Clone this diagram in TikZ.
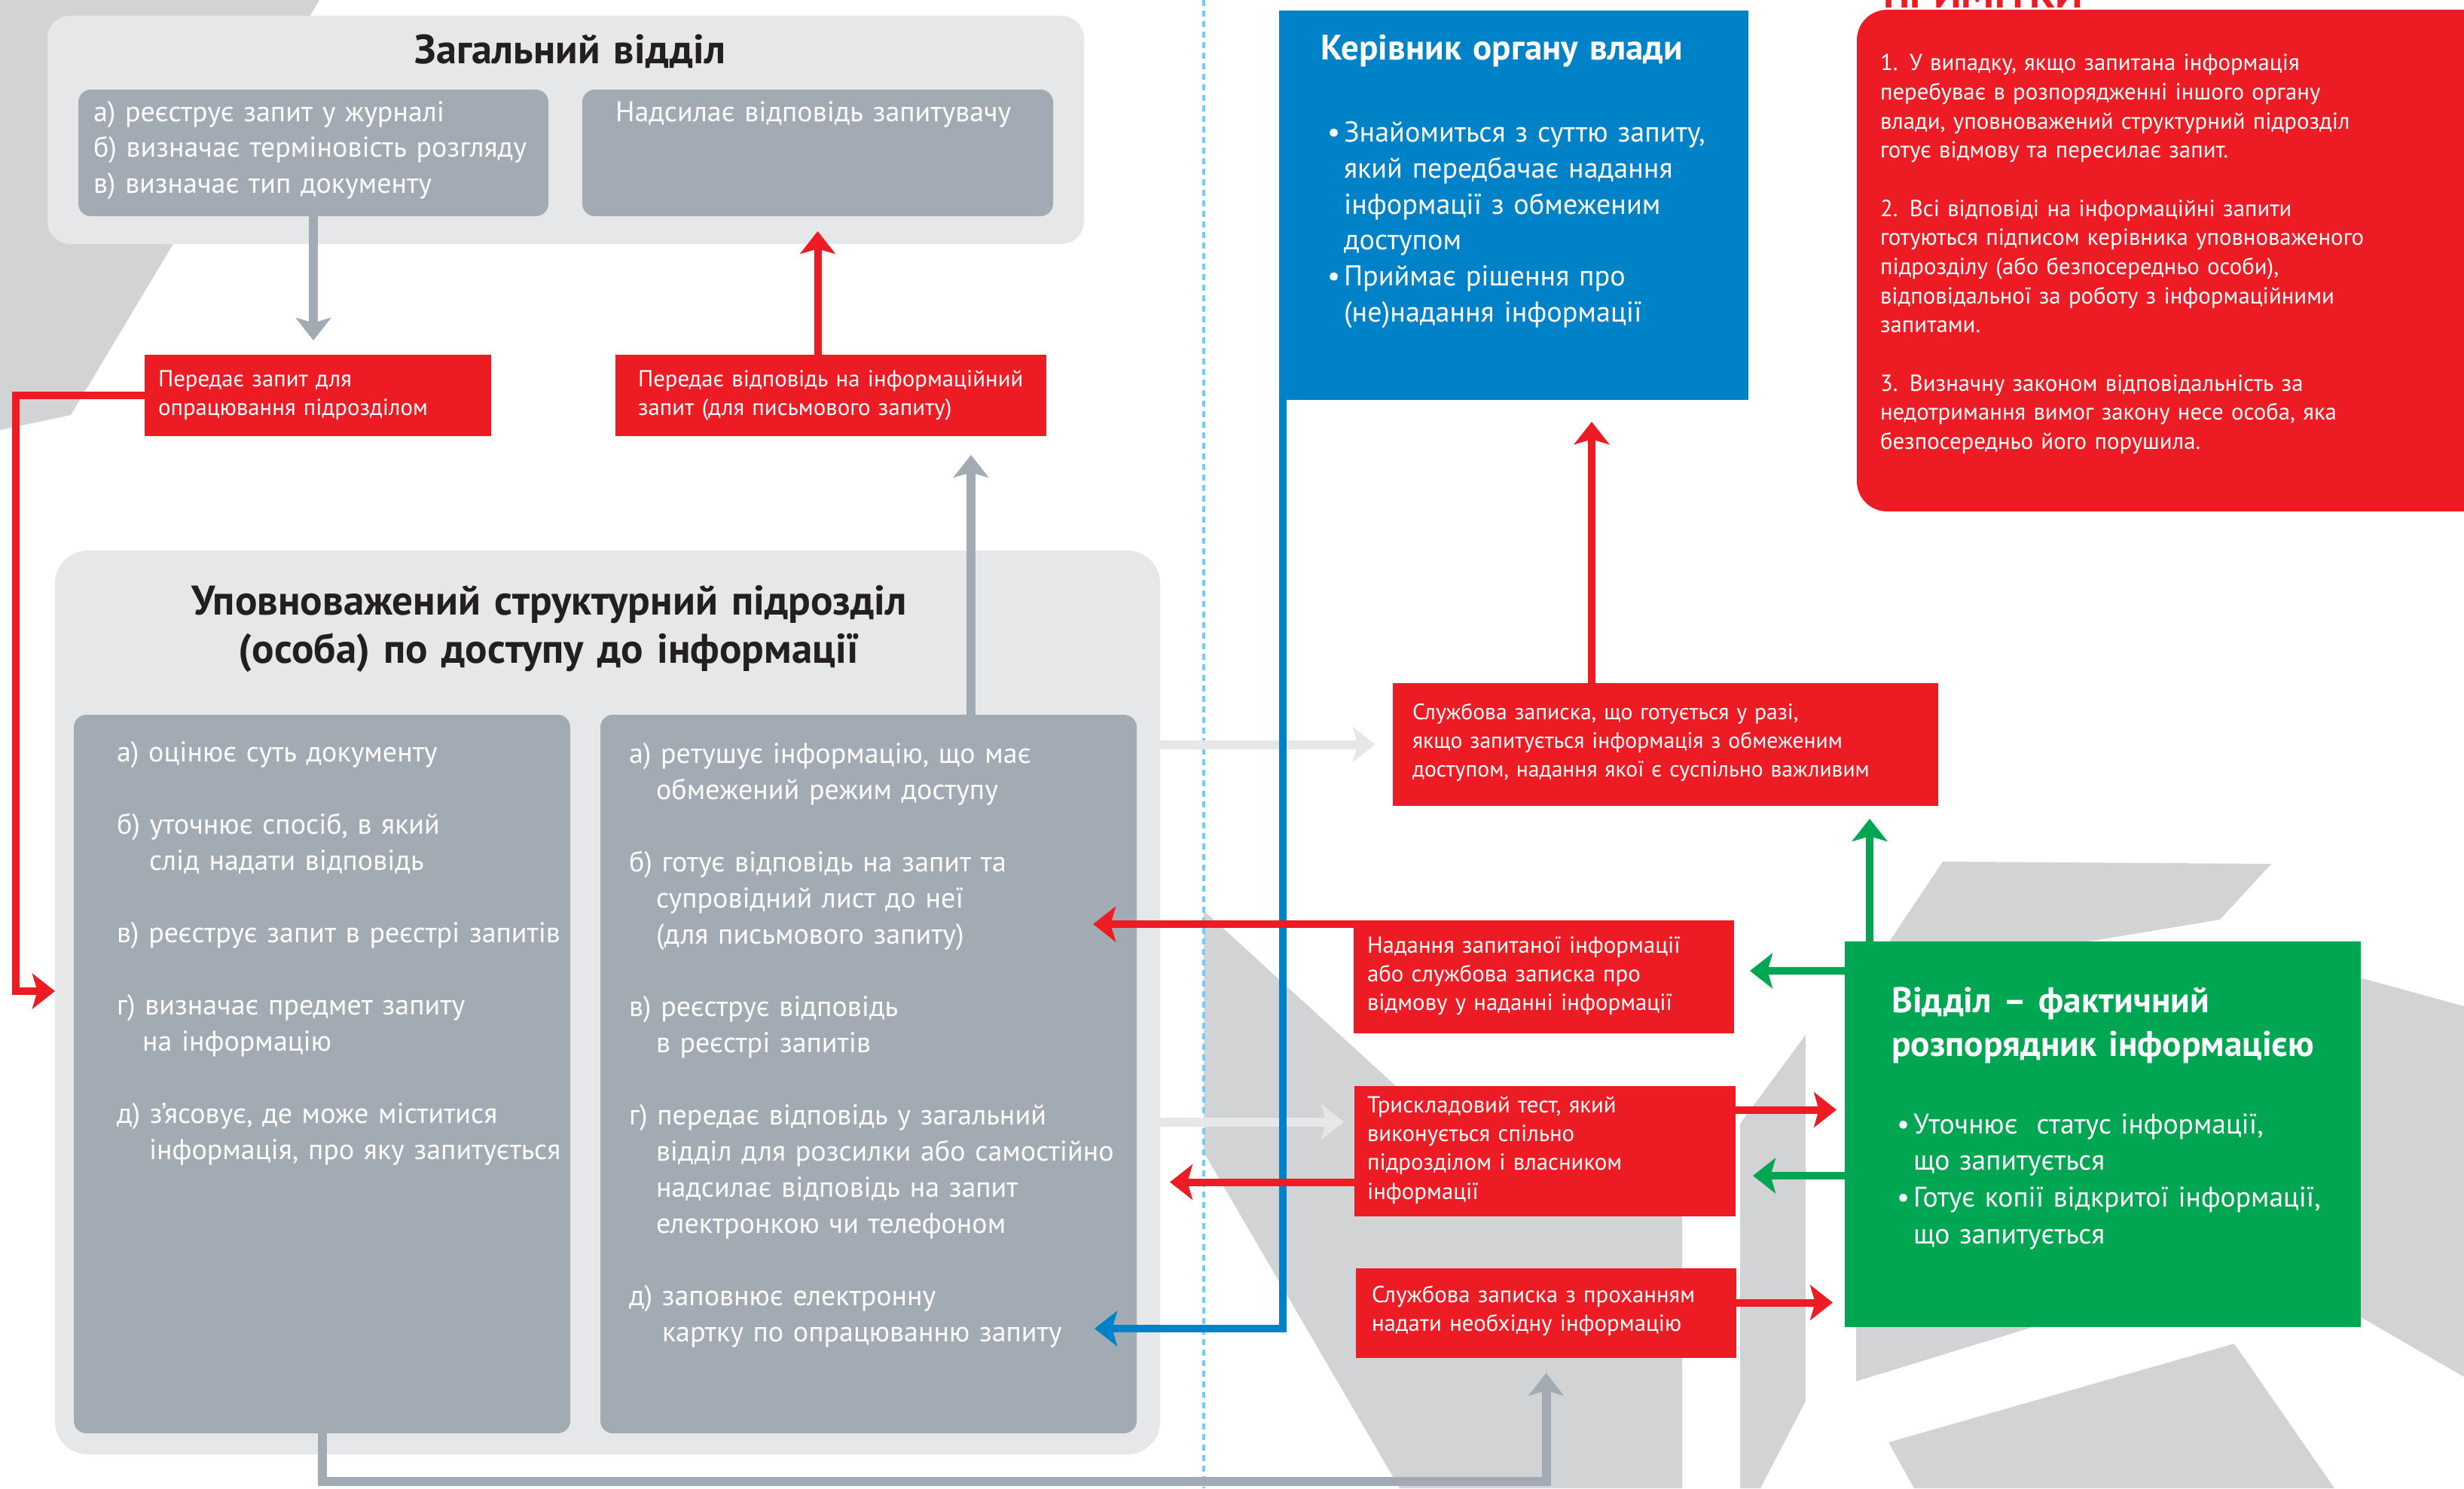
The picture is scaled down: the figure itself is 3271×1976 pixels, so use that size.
\documentclass[tikz,border=0pt]{standalone}
\usepackage{fontspec}
\setmainfont{PT Sans}
\usetikzlibrary{arrows.meta,calc,fit}
\definecolor{bgpoly}{HTML}{D1D3D4}
\definecolor{lightbox}{HTML}{E6E7E8}
\definecolor{subbox}{HTML}{A2ABB3}
\definecolor{cred}{HTML}{ED1C24}
\definecolor{cblue}{HTML}{0082C8}
\definecolor{cgreen}{HTML}{00A651}
\definecolor{cdash}{HTML}{6DCFF6}
\definecolor{titlecol}{HTML}{231F20}
\newcommand\mybody{\fontsize{11.4pt}{14.4pt}\selectfont}
\newcommand\myred{\fontsize{9.25pt}{11.5pt}\selectfont}
\newcommand\myreds{\fontsize{8.9pt}{11.5pt}\selectfont}
\newcommand\mynote{\fontsize{9.25pt}{11.6pt}\selectfont}
\newcommand\myblue{\fontsize{11.45pt}{14.3pt}\selectfont}
\newcommand\mygreen{\fontsize{11.3pt}{14.6pt}\selectfont}
\newcommand\myzagt{\bfseries\fontsize{16.3pt}{19pt}\selectfont}
\newcommand\myupovt{\bfseries\fontsize{16.5pt}{19.2pt}\selectfont}
\newcommand\mybluet{\bfseries\fontsize{14.1pt}{16pt}\selectfont}
\newcommand\mygreent{\bfseries\fontsize{14.2pt}{17.4pt}\selectfont}
\newcommand\mynoteh{\bfseries\fontsize{16.5pt}{18pt}\selectfont}
\tikzset{
  bx/.style={inner sep=0pt, outer sep=0pt, draw=none},
  lightbx/.style={bx, fill=lightbox, rounded corners=9pt},
  lightbxb/.style={bx, fill=lightbox, rounded corners=13pt},
  subbx/.style={bx, fill=subbox, rounded corners=5pt},
  redbx/.style={bx, fill=cred},
  wtxt/.style={inner sep=0pt, outer sep=0pt, anchor=base west, align=left, text width=320pt, text=white},
  ttl/.style={inner sep=0pt, outer sep=0pt, anchor=base, align=center, text width=500pt, text=titlecol},
  arrtip/.style={-{Stealth[length=9pt,width=14pt,inset=2pt]}},
  redarr/.style={arrtip, draw=cred, line width=3pt},
  grayarr/.style={arrtip, draw=subbox, line width=3.6pt},
  lightarr/.style={arrtip, draw=lightbox, line width=3.6pt},
  bluearr/.style={arrtip, draw=cblue, line width=3pt},
  greenarr/.style={arrtip, draw=cgreen, line width=3pt},
  poly/.style={fill=bgpoly, draw=none},
}
\begin{document}
\begin{tikzpicture}[x=0.3pt,y=-0.3pt]
\useasboundingbox (0,0) rectangle (3271,1976);
\clip (0,0) rectangle (3271,1976);
\fill[white] (0,0) rectangle (3271,1976);
% background shapes
\fill[poly] (0,0) -- (424,0) -- (94,551) -- (0,571) -- cycle;
\fill[poly] (1598,1209) -- (1852,1441) -- (2233,1600) -- (2233,1976) -- (1858,1976) -- (1598,1530) -- cycle;
\fill[poly] (2397,1374) -- (2397,1860) -- (2337,1976) -- (2310,1976) -- (2310,1492) -- cycle;
\fill[poly] (2579,1144) -- (3015,1147) -- (2947,1221) -- (2700,1262) -- (2500,1262) -- cycle;
\fill[poly] (2464,1700) -- (3136,1299) -- (3271,1336) -- (3271,1828) -- (3136,1750) -- (2900,1700) -- (2464,1834) -- cycle;
\fill[poly] (2507,1915) -- (2966,1784) -- (3099,1976) -- (2541,1976) -- cycle;
% page fold
\draw[cdash, line width=1pt, dash pattern=on 2.4pt off 1.8pt] (1598,0) -- (1598,1976);
% boxes
\node[lightbx, fit={(63,21) (1439,324)}] (zag) {};
\node[subbx, fit={(104,119) (728,287)}] (zagA) {};
\node[subbx, fit={(773,119) (1398,287)}] (zagB) {};
\node[redbx, fit={(192,471) (652,579)}] (r1) {};
\node[redbx, fit={(817,471) (1389,579)}] (r2) {};
\node[lightbxb, fit={(73,731) (1540,1931)}] (upov) {};
\node[subbx, fit={(98,949) (757,1903)}] (upovL) {};
\node[subbx, fit={(797,949) (1509,1903)}] (upovR) {};
\node[bx, fill=cblue, fit={(1698,14) (2321,531)}] (blue) {};
\node[bx, fill=cred, rounded corners=12pt, fit={(2465,13) (3320,679)}] (notes) {};
\node[redbx, fit={(1849,907) (2573,1070)}] (s1) {};
\node[redbx, fit={(1797,1222) (2302,1372)}] (n2) {};
\node[redbx, fit={(1798,1442) (2304,1615)}] (t3) {};
\node[redbx, fit={(1800,1684) (2305,1803)}] (s4) {};
\node[bx, fill=cgreen, fit={(2449,1250) (3134,1762)}] (green) {};
% helper coordinates
\coordinate (rc) at (21,1316);
\coordinate (gu) at ($(upovR.north)+(136,0)$);
\coordinate (gb) at ($(s4.south)+(0,164)$);
\coordinate (t3l) at ($(t3.west)+(0,-39)$);
\coordinate (s1n) at ($(s1.north)+(-98,0)$);
\coordinate (bl) at ($(blue.south west)+(5,0)$);
\coordinate (bt) at ($(upovR.east)+(-56,338)$);
\coordinate (n2l) at ($(n2.north west)+(0,5)$);
\coordinate (t3w) at ($(t3.west)+(0,41)$);
\coordinate (t3e) at ($(t3.east)+(0,-55)$);
\coordinate (s4e) at ($(s4.east)+(0,-14)$);
\coordinate (gw1) at ($(green.north west)+(0,39)$);
\coordinate (gw2) at ($(green.north west)+(0,311)$);
\coordinate (gn) at ($(green.north west)+(33,0)$);
% connectors
\draw[lightarr, shorten >=7pt] (upov.east |- s1.west) -- (s1.west);
\draw[lightarr, shorten >=4.2pt] (upov.east |- t3l) -- (t3l);
\draw[grayarr, shorten >=5.7pt] (zagA.south) -- (zagA.south |- r1.north);
\draw[grayarr, shorten >=7.5pt] (gu) -- (gu |- r2.south);
\draw[grayarr, shorten >=6pt] (upovL.south) |- (gb) -- (s4.south);
\draw[bluearr] (bl) |- (bt);
\draw[redarr, shorten >=6pt] (r2.north -| zagB.south) -- (zagB.south);
\draw[redarr] (r1.west) -| (rc) -- (rc -| upov.west);
\draw[redarr, shorten >=8.7pt] (s1n) -- (s1n |- blue.south);
\draw[redarr] (n2l) -- ($(n2l -| upovR.east)+(-58,0)$);
\draw[redarr] (t3w) -- ($(t3w -| upov.east)+(13,0)$);
\draw[redarr, shorten >=3.3pt] (t3e) -- (t3e -| green.west);
\draw[redarr, shorten >=4.8pt] (s4e) -- (s4e -| green.west);
\draw[greenarr, shorten >=6.3pt] (gw1) -- (gw1 -| n2.east);
\draw[greenarr, shorten >=6.9pt] (gw2) -- (gw2 -| t3.east);
\draw[greenarr, shorten >=5.1pt] (gn) -- (gn |- s1.south);
% texts
\node[ttl, font=\myzagt] (zagT) at (757,85) {Загальний відділ};
\node[wtxt, font=\mybody] (zagAt) at (124,161) {а) реєструє запит у журналі\\б) визначає терміновість розгляду\\в) визначає тип документу};
\node[wtxt, font=\mybody] (zagBt) at (817,161) {Надсилає відповідь запитувачу};
\node[wtxt, font=\myred] (r1t) at (210,513) {Передає запит для\\опрацювання підрозділом};
\node[wtxt, font=\myred] (r2t) at (847,513) {Передає відповідь на інформаційний\\запит (для письмового запиту)};
\node[ttl, font=\myupovt] (upovT) at (729,816) {Уповноважений структурний підрозділ\\(особа) по доступу до інформації};
\node[wtxt, font=\mybody] (upovLt) at (155,1011) {а) оцінює суть документу\\[14.4pt]
б) уточнює спосіб, в який\\\hspace*{12.9pt}слід надати відповідь\\[14.4pt]
в) реєструє запит в реєстрі запитів\\[14.4pt]
г) визначає предмет запиту\\\hspace*{10.2pt}на інформацію\\[14.4pt]
д) з’ясовує, де може міститися\\\hspace*{12.9pt}інформація, про яку запитується};
\node[wtxt, font=\mybody] (upovRt) at (835,1013) {а) ретушує інформацію, що має\\\hspace*{10.8pt}обмежений режим доступу\\[14.4pt]
б) готує відповідь на запит та\\\hspace*{10.8pt}супровідний лист до неї\\\hspace*{10.8pt}(для письмового запиту)\\[14.4pt]
в) реєструє відповідь\\\hspace*{10.8pt}в реєстрі запитів\\[14.4pt]
г) передає відповідь у загальний\\\hspace*{10.8pt}відділ для розсилки або самостійно\\\hspace*{10.8pt}надсилає відповідь на запит\\\hspace*{10.8pt}електронкою чи телефоном\\[14.4pt]
д) заповнює електронну\\\hspace*{13.2pt}картку по опрацюванню запиту};
\node[wtxt, font=\mybluet] (blueT) at (1753,80) {Керівник органу влади};
\node[wtxt, font=\myblue] (bluet) at (1762,189) {\makebox[6.6pt][l]{•}Знайомиться з суттю запиту,\\\hspace*{6.6pt}який передбачає надання\\\hspace*{6.6pt}інформації з обмеженим\\\hspace*{6.6pt}доступом\\
\makebox[6.6pt][l]{•}Приймає рішення про\\\hspace*{6.6pt}(не)надання інформації};
\node[inner sep=0pt, anchor=base west, text=cred, font=\mynoteh] (notesH) at (2500,11) {ПРИМІТКИ};
\node[wtxt, font=\mynote] (notest) at (2496,94) {1. У випадку, якщо запитана інформація\\перебуває в розпорядженні іншого органу\\влади, уповноважений структурний підрозділ\\готує відмову та пересилає запит.\\[11.6pt]
2. Всі відповіді на інформаційні запити\\готуються підписом керівника уповноваженого\\підрозділу (або безпосередньо особи),\\відповідальної за роботу з інформаційними\\запитами.\\[11.6pt]
3. Визначну законом відповідальність за\\недотримання вимог закону несе особа, яка\\безпосередньо його порушила.};
\node[wtxt, font=\myreds] (s1t) at (1875,955) {Службова записка, що готується у разі,\\якщо запитується інформація з обмеженим\\доступом, надання якої є суспільно важливим};
\node[wtxt, font=\myred] (n2t) at (1815,1265) {Надання запитаної інформації\\або службова записка про\\відмову у наданні інформації};
\node[wtxt, font=\myred] (t3t) at (1815,1477) {Трискладовий тест, який\\виконується спільно\\підрозділом і власником\\інформації};
\node[wtxt, font=\myred] (s4t) at (1821,1729) {Службова записка з проханням\\надати необхідну інформацію};
\node[wtxt, font=\mygreent] (greenT) at (2511,1344) {Відділ – фактичний\\розпорядник інформацією};
\node[wtxt, font=\mygreen] (greent) at (2518,1505) {\makebox[6.6pt][l]{•}Уточнює\ \ статус інформації,\\\hspace*{6.6pt}що запитується\\
\makebox[6.6pt][l]{•}Готує копії відкритої інформації,\\\hspace*{6.6pt}що запитується};
\end{tikzpicture}
\end{document}
